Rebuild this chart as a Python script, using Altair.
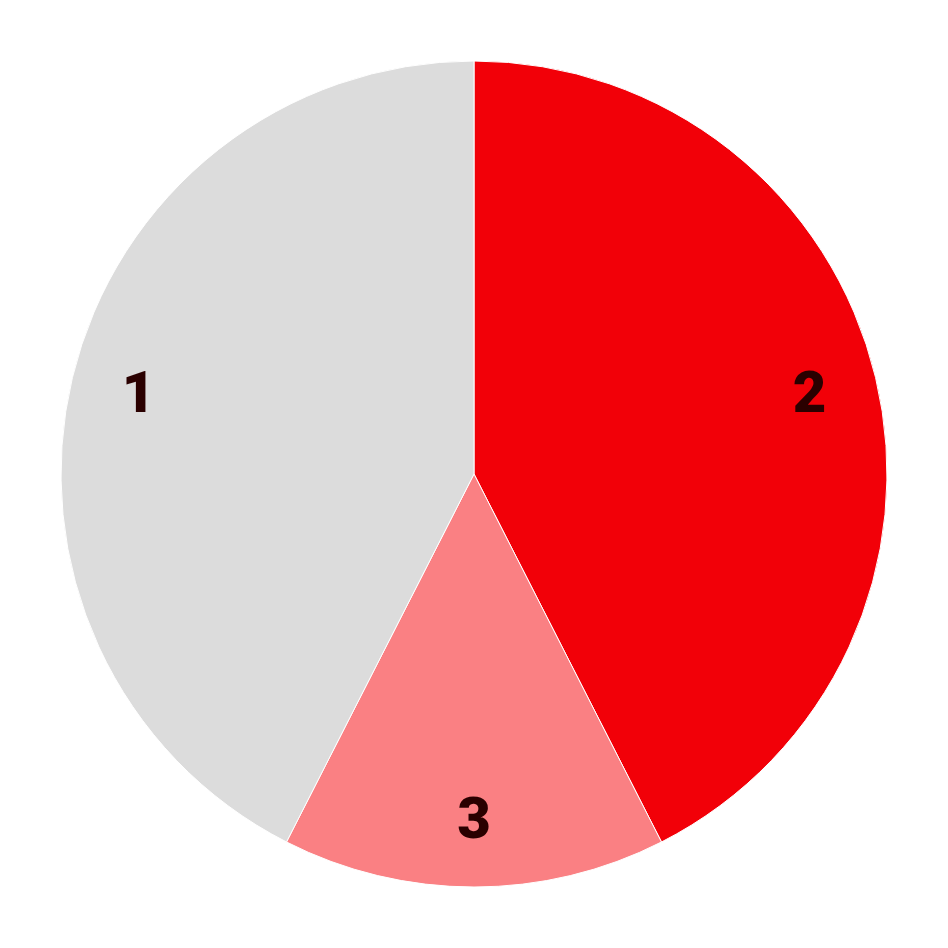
import altair as alt
import pandas as pd

labels = ["2", "3", "1"]
values = [42.5, 15.0, 42.5]
order = [0, 1, 2]
colors = ["#f20008", "#fa8083", "#dcdcdc"]

df = pd.DataFrame({"label": labels, "value": values, "order": order})

base = alt.Chart(df).encode(
    theta=alt.Theta("value:Q", stack=True),
    order=alt.Order("order:Q"),
)

pie = base.mark_arc(outerRadius=413, stroke="white", strokeWidth=1).encode(
    color=alt.Color("label:N", scale=alt.Scale(domain=labels, range=colors), legend=None)
)

text = base.mark_text(radius=345, fontSize=58, fontWeight=900, font="Roboto",
                      color="#2a0000", baseline="middle", align="center", dy=2).encode(
    text="label:N"
)

chart = (pie + text).properties(width=932, height=932, padding=0).configure_view(stroke=None)
chart.save("out.html", embed_options={"renderer": "svg", "actions": False})
